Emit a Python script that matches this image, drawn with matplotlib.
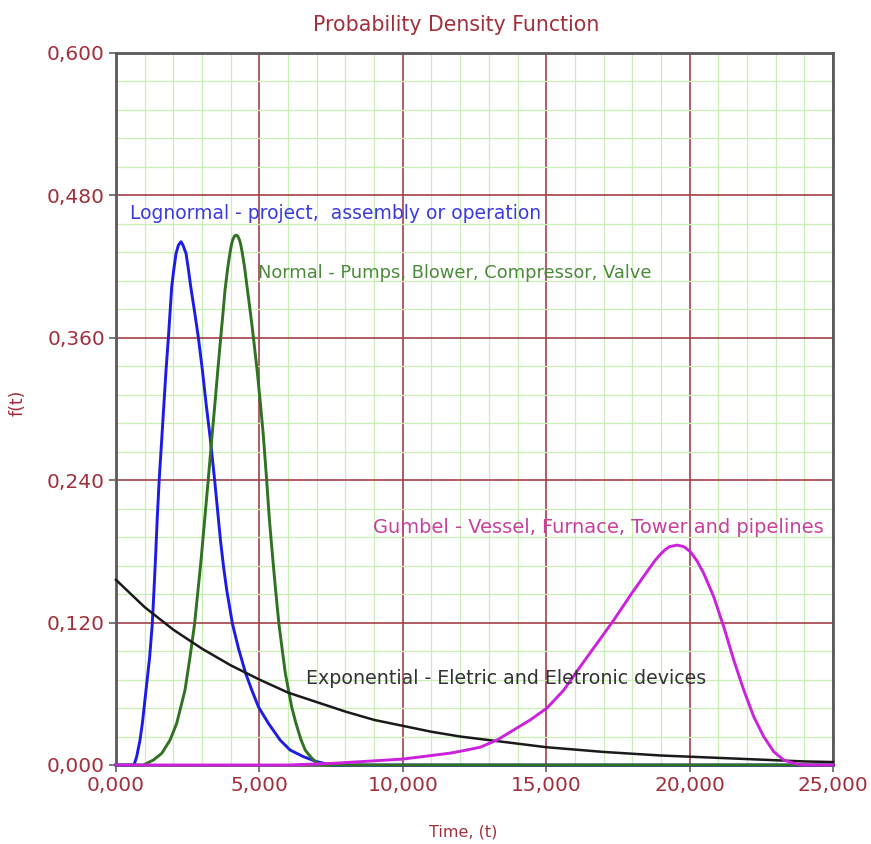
import matplotlib
matplotlib.use("Agg")
import matplotlib.pyplot as plt
from matplotlib.ticker import MultipleLocator

# ---- data ----
logn_t = [0, 628, 721, 837, 919, 1047, 1175, 1265, 1325, 1380, 1435, 1505, 1600, 1672, 1745,
          1826, 1943, 2012, 2093, 2175, 2268, 2337, 2442, 2523, 2606, 2740, 2873, 3012, 3140,
          3280, 3440, 3540, 3640, 3750, 3861, 4060, 4270, 4524, 4734, 4966, 5315, 5722, 6071,
          6536, 7002, 7500, 25000]
logn_f = [0, 0, 0.007, 0.021, 0.0351, 0.0632, 0.0913, 0.119, 0.1474, 0.1755, 0.2064, 0.240,
          0.2766, 0.3047, 0.3328, 0.360, 0.403, 0.417, 0.431, 0.438, 0.441, 0.438, 0.431, 0.418,
          0.403, 0.382, 0.360, 0.3328, 0.3047, 0.2766, 0.240, 0.215, 0.190, 0.167, 0.1474, 0.119,
          0.0983, 0.077, 0.0632, 0.049, 0.0351, 0.021, 0.0126, 0.007, 0.0028, 0.0, 0.0]

norm_t = [0, 953, 1303, 1594, 1884, 2117, 2407, 2582, 2740, 2860, 2966, 3090, 3215, 3345, 3450,
          3550, 3650, 3720, 3800, 3896, 3977, 4030, 4070, 4130, 4187, 4245, 4305, 4345, 4400,
          4480, 4559, 4650, 4734, 4792, 4920, 5035, 5141, 5253, 5350, 5470, 5565, 5680, 5790,
          5905, 6125, 6275, 6455, 6600, 6780, 7003, 7200, 25000]
norm_f = [0, 0, 0.0042, 0.0098, 0.021, 0.0351, 0.0632, 0.0913, 0.119, 0.1474, 0.1727, 0.2064,
          0.240, 0.2766, 0.3047, 0.3328, 0.360, 0.378, 0.400, 0.419, 0.432, 0.439, 0.4425,
          0.4457, 0.4465, 0.4457, 0.4425, 0.439, 0.432, 0.420, 0.405, 0.388, 0.372, 0.360,
          0.3328, 0.3047, 0.2766, 0.240, 0.2064, 0.1727, 0.1474, 0.119, 0.0983, 0.0772, 0.049,
          0.0351, 0.021, 0.0125, 0.007, 0.0015, 0.0, 0.0]

expo_t = [0, 1000, 2000, 3000, 4000, 5000, 6000, 7000, 8000, 9000, 10000, 11000, 12000,
          13000, 14000, 15000, 16000, 17000, 18000, 19000, 20000, 21000, 22000, 23000,
          24000, 25000]
expo_f = [0.156, 0.133, 0.114, 0.098, 0.084, 0.072, 0.061, 0.053, 0.045, 0.038, 0.033, 0.028,
          0.024, 0.021, 0.018, 0.015, 0.013, 0.011, 0.0095, 0.008, 0.007, 0.006, 0.005, 0.004,
          0.003, 0.0025]

gumb_t = [0, 6000, 7570, 8526, 10000, 11000, 11654, 12200, 12700, 13282, 13864, 14445, 15027,
          15608, 16190, 16772, 17353, 17935, 18517, 18800, 18980, 19150, 19300, 19563, 19800,
          20027, 20260, 20492, 20841, 21190, 21539, 21888, 22236, 22585, 22934, 23283, 23632,
          24000, 25000]
gumb_f = [0, 0, 0.0014, 0.0028, 0.005, 0.008, 0.010, 0.0125, 0.015, 0.021, 0.0295, 0.038,
          0.048, 0.063, 0.083, 0.1025, 0.122, 0.143, 0.163, 0.1725, 0.1775, 0.1815, 0.1840,
          0.1853, 0.184, 0.1797, 0.172, 0.1615, 0.1418, 0.1165, 0.0885, 0.0632, 0.0407, 0.0239,
          0.0112, 0.0042, 0.0014, 0.0, 0.0]

x_ticks = [0, 5000, 10000, 15000, 20000, 25000]
x_labels = ["0,000", "5,000", "10,000", "15,000", "20,000", "25,000"]
y_ticks = [0, 0.12, 0.24, 0.36, 0.48, 0.60]
y_labels = ["0,000", "0,120", "0,240", "0,360", "0,480", "0,600"]

labels = ["Lognormal - project,  assembly or operation",
          "Normal - Pumps, Blower, Compressor, Valve",
          "Gumbel - Vessel, Furnace, Tower and pipelines",
          "Exponential - Eletric and Eletronic devices"]

title = "Probability Density Function"
xlabel = "Time, (t)"
ylabel = "f(t)"

# ---- drawing ----
plt.rcParams['font.family'] = ['DejaVu Sans']
red = "#a32f3c"

fig = plt.figure(figsize=(8.71, 8.44), dpi=100)
ax = fig.add_axes([116/871, (844-765)/844, 717/871, 712/844])

ax.set_xlim(0, 25000)
ax.set_ylim(0, 0.6)
ax.xaxis.set_minor_locator(MultipleLocator(1000))
ax.yaxis.set_minor_locator(MultipleLocator(0.024))
ax.set_xticks(x_ticks)
ax.set_xticklabels(x_labels)
ax.set_yticks(y_ticks)
ax.set_yticklabels(y_labels)
ax.grid(which='minor', color='#c8efb4', linewidth=0.9, zorder=0)
ax.grid(which='major', color='#a3404a', linewidth=1.2, zorder=0.5)
ax.set_axisbelow(True)

ax.tick_params(which='major', direction='out', length=5, width=1.2, color='#606060',
               labelsize=14.5, labelcolor=red, pad=3)
ax.tick_params(which='minor', length=0)
for s in ax.spines.values():
    s.set_color('#5a5a5a')
    s.set_linewidth(2)

ax.plot(logn_t, logn_f, color='#1c1ce6', lw=2.1, zorder=3, clip_on=False,
        solid_joinstyle='round')
ax.plot(norm_t, norm_f, color='#2f7222', lw=2.1, zorder=3, clip_on=False,
        solid_joinstyle='round')
ax.plot(expo_t, expo_f, color='#1a1a1a', lw=1.8, zorder=3, clip_on=False,
        solid_joinstyle='round')
ax.plot(gumb_t, gumb_f, color='#cc22dd', lw=2.1, zorder=3.5, clip_on=False,
        solid_joinstyle='round')

ax.text(488, 0.465, labels[0], color='#3b3be0', fontsize=13.5, ha='left', va='center', zorder=4)
ax.text(4954, 0.4145, labels[1], color='#4a8a3a', fontsize=12.9, ha='left', va='center', zorder=4)
ax.text(8967, 0.2005, labels[2], color='#c8409c', fontsize=13.95, ha='left', va='center', zorder=4)
ax.text(6629, 0.0733, labels[3], color='#333333', fontsize=13.7, ha='left', va='center', zorder=4)

fig.text(456/871, 1 - 25/844, title, color=red, fontsize=14.8, ha='center', va='center')
fig.text(463/871, 1 - 832/844, xlabel, color=red, fontsize=11.5, ha='center', va='center')
fig.text(18/871, 1 - 403/844, ylabel, color=red, fontsize=12.5, ha='center', va='center',
         rotation=90)

fig.savefig("out.png", dpi=100, facecolor='white')
